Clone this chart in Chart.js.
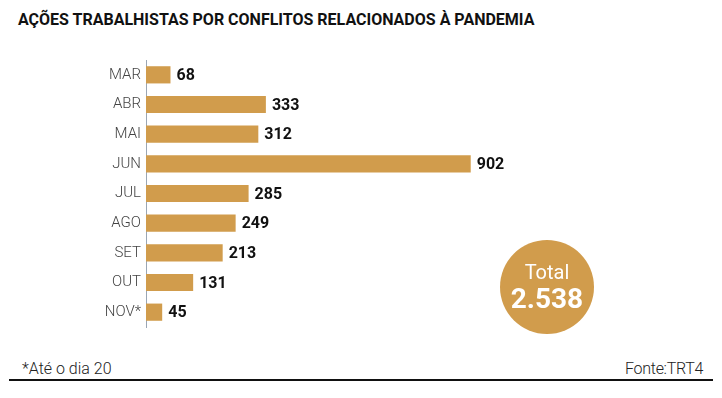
<!DOCTYPE html>
<html><head><meta charset="utf-8">
<script src="https://cdn.jsdelivr.net/npm/chart.js@4"></script>
<style>
body{margin:0;width:722px;height:398px;background:#fff;position:relative;overflow:hidden;font-family:Roboto,sans-serif}
#title{position:absolute;left:18px;top:10px;font-family:"Liberation Sans Narrow",Roboto,sans-serif;font-weight:bold;font-size:16px;color:#111;white-space:nowrap}
#ch{position:absolute;left:80px;top:46px}
#circle{position:absolute;left:500px;top:240px;width:94px;height:94px;border-radius:50%;background:#D19C4C;color:#fff;text-align:center}
#c1{position:absolute;top:21px;width:100%;font-size:20px;line-height:22px}
#c2{position:absolute;top:44px;width:100%;font-size:28px;font-weight:bold;line-height:30px}
#note{position:absolute;left:22px;top:359px;font-size:16px;font-weight:300;color:#222}
#src{position:absolute;right:19px;top:359px;font-size:16px;font-weight:300;color:#222;letter-spacing:-0.3px}
#line{position:absolute;left:9px;top:379px;width:704px;height:2px;background:#111}
</style></head><body>
<div id="title">AÇÕES TRABALHISTAS POR CONFLITOS RELACIONADOS À PANDEMIA</div>
<canvas id="ch" width="426" height="295"></canvas>
<div id="circle"><div id="c1">Total</div><div id="c2">2.538</div></div>
<div id="note">*Até o dia 20</div>
<div id="src">Fonte:TRT4</div>
<div id="line"></div>
<script>
const months = ["MAR","ABR","MAI","JUN","JUL","AGO","SET","OUT","NOV*"];
const cases = [68,333,312,902,285,249,213,131,45];

const valueLabels = {
  id:'valueLabels',
  afterDatasetsDraw(chart){
    const ctx = chart.ctx;
    const meta = chart.getDatasetMeta(0);
    ctx.save();
    ctx.font = 'bold 16px Roboto';
    ctx.fillStyle = '#111';
    ctx.textBaseline = 'middle';
    ctx.textAlign = 'left';
    meta.data.forEach((bar,i)=>{
      ctx.fillText(String(cases[i]), bar.x + 6, bar.y + 1);
    });
    ctx.restore();
  }
};

new Chart(document.getElementById('ch'), {
  type:'bar',
  data:{labels:months, datasets:[{data:cases, backgroundColor:'#D19C4C', barPercentage:0.58, categoryPercentage:1}]},
  options:{
    indexAxis:'y', responsive:false, animation:false,
    layout:{padding:0},
    plugins:{legend:{display:false}, tooltip:{enabled:false}},
    scales:{
      x:{display:false, min:0, max:1000},
      y:{
        afterFit(s){ s.width = 66; },
        grid:{display:false, drawTicks:false},
        border:{display:true, color:'#9aa6b5', width:1},
        ticks:{color:'#444', font:{family:'Roboto', size:15, weight:300}, padding:5}
      }
    }
  },
  plugins:[valueLabels]
});
</script>
</body></html>
